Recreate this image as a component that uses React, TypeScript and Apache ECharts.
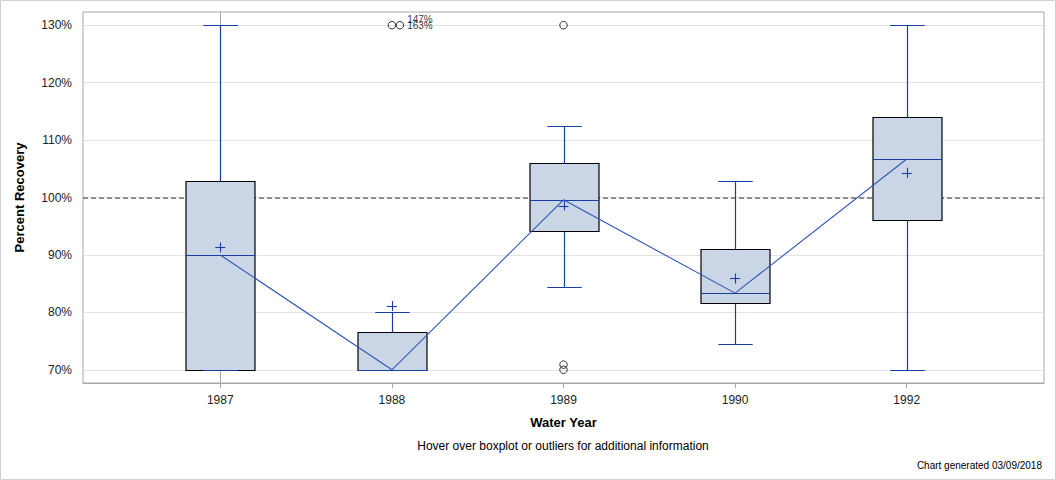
import React, { useEffect, useRef } from "react";
import * as echarts from "echarts";

const categories = ["1987", "1988", "1989", "1990", "1992"];
const lowWhisker = [70, 70, 84.5, 74.5, 70];
const q1 = [70, 70, 94.1, 81.6, 96.0];
const median = [90, 70, 99.6, 83.35, 106.7];
const q3 = [102.9, 76.6, 106.0, 91.1, 114.0];
const highWhisker = [130, 80, 112.4, 102.9, 130];
const mean = [91.3, 81.1, 98.6, 85.9, 104.3];

const outlierCat = [1, 1, 2, 2, 2];
const outlierVal = [147, 163, 130, 70.9, 70.0];

const yTicks = [70, 80, 90, 100, 110, 120, 130];
const yMin = 67.7;
const yMax = 132.3;
const referenceValue = 100;

const FONT = "'Liberation Sans', Arial, sans-serif";
const BLUE = "#1A3DA5";
const LINE_BLUE = "#2F56B5";

const crisp = (v: number) => Math.round(v) + 0.5;

export default function App() {
  const ref = useRef<HTMLDivElement>(null);
  useEffect(() => {
    document.body.style.margin = "0";
    const chart = echarts.init(ref.current!, null, { renderer: "svg" });

    const boxData = categories.map((_, i) => [
      i,
      lowWhisker[i],
      q1[i],
      median[i],
      q3[i],
      highWhisker[i],
      mean[i],
    ]);

    const outliers = outlierCat.map((c, i) => {
      const v = outlierVal[i];
      const shown = Math.min(v, 130);
      const clipped = v > yMax;
      return {
        value: [c, shown],
        label: clipped
          ? {
              show: true,
              formatter: `${v}%`,
              position: "right" as const,
              distance: 3,
              offset: i === 0 ? [8, -6] : [0, 0],
              fontSize: 10,
              fontFamily: FONT,
              color: "#000",
            }
          : { show: false },
        symbolOffset: clipped && i === 1 ? [8, 0] : [0, 0],
      };
    });

    const renderBox = (params: any, api: any) => {
      const x = api.value(0);
      const lo = api.coord([x, api.value(1)]);
      const b1 = api.coord([x, api.value(2)]);
      const md = api.coord([x, api.value(3)]);
      const b3 = api.coord([x, api.value(4)]);
      const hi = api.coord([x, api.value(5)]);
      const mn = api.coord([x, api.value(6)]);
      const w = Math.round(api.size([0.4, 0])[0]);
      const cx = crisp(lo[0]);
      const half = w / 2;
      const cap = w / 4;
      const ls = { stroke: BLUE, lineWidth: 1.2 };
      const yl = crisp(lo[1]);
      const y1 = crisp(b1[1]);
      const ym = crisp(md[1]);
      const y3 = crisp(b3[1]);
      const yh = crisp(hi[1]);
      return {
        type: "group",
        children: [
          { type: "line", shape: { x1: cx, y1: y3, x2: cx, y2: yh }, style: ls },
          { type: "line", shape: { x1: cx, y1: yl, x2: cx, y2: y1 }, style: ls },
          {
            type: "rect",
            shape: { x: cx - half, y: y3, width: w, height: y1 - y3 },
            style: { fill: "#CAD5E5", stroke: "#000", lineWidth: 1.2 },
          },
          { type: "line", shape: { x1: cx - half, y1: ym, x2: cx + half, y2: ym }, style: ls },
          { type: "line", shape: { x1: cx - cap, y1: yh, x2: cx + cap, y2: yh }, style: ls },
          { type: "line", shape: { x1: cx - cap, y1: yl, x2: cx + cap, y2: yl }, style: ls },
          {
            type: "line",
            shape: { x1: mn[0] - 5, y1: crisp(mn[1]), x2: mn[0] + 5, y2: crisp(mn[1]) },
            style: { stroke: BLUE, lineWidth: 1.1 },
          },
          {
            type: "line",
            shape: { x1: crisp(mn[0]), y1: mn[1] - 5, x2: crisp(mn[0]), y2: mn[1] + 5 },
            style: { stroke: BLUE, lineWidth: 1.1 },
          },
        ],
      };
    };

    chart.setOption({
      animation: false,
      textStyle: { fontFamily: FONT },
      grid: {
        left: 83,
        top: 12,
        width: 961,
        height: 371,
        show: true,
        borderColor: "#A6A6A6",
        borderWidth: 1,
        backgroundColor: "transparent",
      },
      xAxis: {
        type: "value",
        min: -0.8,
        max: 4.8,
        splitLine: { show: false },
        axisLine: { show: true, lineStyle: { color: "#A6A6A6" } },
        axisTick: {
          show: true,
          length: 5,
          customValues: categories.map((_, i) => i),
          lineStyle: { color: "#A6A6A6" },
        },
        axisLabel: {
          customValues: categories.map((_, i) => i),
          formatter: (v: number) => categories[Math.round(v)] ?? "",
          color: "#222",
          fontSize: 12,
          margin: 11,
          fontFamily: FONT,
        },
        name: "Water Year",
        nameLocation: "middle",
        nameGap: 33,
        nameTextStyle: { fontWeight: "bold", fontSize: 13, color: "#000", fontFamily: FONT },
      },
      yAxis: {
        type: "value",
        min: yMin,
        max: yMax,
        splitLine: { show: false },
        axisLine: { show: true, lineStyle: { color: "#A6A6A6" } },
        axisTick: { show: false },
        axisLabel: {
          customValues: yTicks,
          formatter: (v: number) => `${v}%`,
          color: "#222",
          fontSize: 12,
          margin: 11,
          fontFamily: FONT,
        },
        name: "Percent Recovery",
        nameLocation: "middle",
        nameGap: 57,
        nameTextStyle: { fontWeight: "bold", fontSize: 13, color: "#000", fontFamily: FONT },
      },
      series: [
        {
          type: "line",
          data: yTicks.map((t) => [-0.8, t]),
          symbol: "none",
          lineStyle: { opacity: 0 },
          silent: true,
          z: 0,
          markLine: {
            z: 0,
            silent: true,
            symbol: "none",
            label: { show: false },
            lineStyle: { color: "#E2E2E2", type: "solid", width: 1 },
            data: yTicks.map((t) => ({ yAxis: t })),
          },
        },
        {
          type: "line",
          data: [],
          z: 1,
          markLine: {
            z: 1,
            silent: true,
            symbol: "none",
            label: { show: false },
            lineStyle: { color: "#8E8E8E", type: [5, 3], width: 2 },
            data: [{ yAxis: referenceValue }],
          },
        },
        {
          type: "custom",
          renderItem: renderBox,
          data: boxData,
          encode: { x: 0, y: [1, 2, 3, 4, 5, 6] },
          z: 3,
        },
        {
          type: "line",
          data: median.map((m, i) => [i, m]),
          symbol: "none",
          lineStyle: { color: LINE_BLUE, width: 1.1 },
          z: 4,
        },
        {
          type: "scatter",
          data: outliers,
          symbol: "circle",
          symbolSize: 7.5,
          itemStyle: { color: "transparent", borderColor: "#000", borderWidth: 1 },
          z: 5,
        },
      ],
      graphic: [
        {
          type: "rect",
          shape: { x: 0.5, y: 0.5, width: 1055, height: 479 },
          style: { fill: "none", stroke: "#D0D0D0", lineWidth: 1 },
          silent: true,
        },
        {
          type: "text",
          x: 563,
          y: 446,
          style: {
            text: "Hover over boxplot or outliers for additional information",
            fontSize: 12,
            fontFamily: FONT,
            fill: "#000",
            align: "center",
            verticalAlign: "middle",
          },
        },
        {
          type: "text",
          x: 1042,
          y: 465,
          style: {
            text: "Chart generated 03/09/2018",
            fontSize: 10,
            fontFamily: FONT,
            fill: "#000",
            align: "right",
            verticalAlign: "middle",
          },
        },
      ],
    });
    return () => chart.dispose();
  }, []);
  return <div ref={ref} style={{ width: 1056, height: 480 }} />;
}
